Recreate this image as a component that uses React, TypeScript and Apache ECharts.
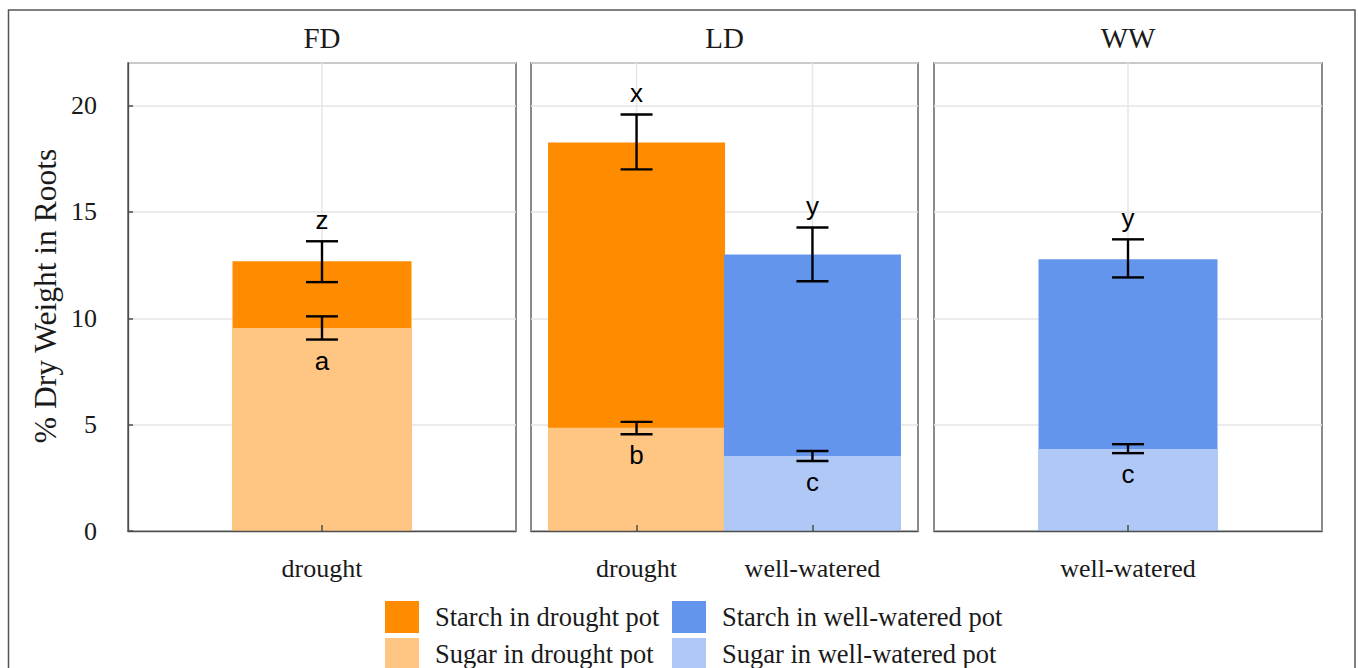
import React, { useEffect, useRef } from 'react';
import * as echarts from 'echarts';

// ---------- data ----------
const panelNames = ['FD', 'LD', 'WW'];
const panelCategories = [['drought'], ['drought', 'well-watered'], ['well-watered']];
const barPanel = [0, 1, 1, 2];
const barTreatment = ['drought', 'drought', 'well-watered', 'well-watered'];
const sugarValues = [9.54, 4.85, 3.52, 3.85];
const starchValues = [3.14, 13.41, 9.48, 8.92];
const sugarErrLow = [9.0, 4.55, 3.29, 3.66];
const sugarErrHigh = [10.09, 5.13, 3.76, 4.08];
const totalErrLow = [11.7, 17.0, 11.74, 11.92];
const totalErrHigh = [13.62, 19.58, 14.27, 13.71];
const starchLetters = ['z', 'x', 'y', 'y'];
const sugarLetters = ['a', 'b', 'c', 'c'];
const yMin = 0;
const yMax = 22;
const yInterval = 5;
const yAxisTitle = '% Dry Weight in Roots';
const legendStarchDrought = 'Starch in drought pot';
const legendSugarDrought = 'Sugar in drought pot';
const legendStarchWW = 'Starch in well-watered pot';
const legendSugarWW = 'Sugar in well-watered pot';

// ---------- style ----------
const SERIF = '"Liberation Serif", "Times New Roman", serif';
const SANS = '"Liberation Sans", Arial, sans-serif';
const colStarchD = '#FF8C00';
const colSugarD = '#FEC583';
const colStarchW = '#6495ED';
const colSugarW = '#B0C8F5';
const frameColor = '#4d4d4d';
const gridColor = '#e6e6e6';
const panelLeft = [128, 531, 934];
const panelWidth = [388, 387, 388];
const panelTop = 63;
const panelHeight = 468;
const barWidths = [179, 177, 179];

function buildOption() {
  const grids: any[] = [];
  const xAxes: any[] = [];
  const yAxes: any[] = [];
  const series: any[] = [];
  const graphics: any[] = [];

  panelNames.forEach((name, p) => {
    const cats = panelCategories[p];
    const customVals = cats.map((_, k) => k + 1);
    grids.push({
      left: panelLeft[p], top: panelTop, width: panelWidth[p], height: panelHeight,
      show: true, borderColor: frameColor, borderWidth: 1.3, backgroundColor: 'transparent',
    });
    xAxes.push({
      type: 'value', gridIndex: p, min: 0.4, max: cats.length + 0.6, z: 5,
      axisLine: { show: true, lineStyle: { color: frameColor, width: 1.3 } },
      axisTick: { show: true, inside: true, length: 6, customValues: customVals, lineStyle: { color: frameColor, width: 1.5 } },
      axisLabel: {
        show: true, customValues: customVals, margin: 24,
        formatter: (v: number) => cats[Math.round(v) - 1] ?? '',
        fontSize: 26, fontFamily: SERIF, color: '#1a1a1a',
      },
      splitLine: { show: false },
    });
    yAxes.push({
      type: 'value', gridIndex: p, min: yMin, max: yMax, interval: yInterval,
      axisLine: { show: p === 0, lineStyle: { color: frameColor, width: 1.3 } },
      axisTick: { show: p === 0, inside: true, length: 5, lineStyle: { color: frameColor, width: 1.5 } },
      axisLabel: { show: p === 0, showMaxLabel: false, margin: 31, fontSize: 26, fontFamily: SERIF, color: '#1a1a1a' },
      splitLine: { show: true, lineStyle: { color: gridColor, width: 1.5 } },
    });
    // vertical grid lines at category centres
    series.push({
      type: 'custom', xAxisIndex: p, yAxisIndex: p, z: 1, silent: true,
      data: customVals.map((v) => [v, 0]),
      renderItem: (params: any, api: any) => {
        const x = api.coord([api.value(0), 0])[0];
        const cs = params.coordSys;
        return {
          type: 'line',
          shape: { x1: x, y1: cs.y, x2: x, y2: cs.y + cs.height },
          style: { stroke: gridColor, lineWidth: 1.5 },
        };
      },
    });
    graphics.push({
      type: 'text', x: panelLeft[p] + panelWidth[p] / 2, y: 38,
      style: {
        text: name, font: `29px ${SERIF}`, fill: '#1a1a1a',
        textAlign: 'center', textVerticalAlign: 'middle', align: 'center', verticalAlign: 'middle',
      },
    });
  });

  sugarValues.forEach((sv, i) => {
    const p = barPanel[i];
    const x = panelCategories[p].indexOf(barTreatment[i]) + 1;
    const isD = barTreatment[i] === 'drought';
    // starch sits on top of sugar: drawn from 0 to sugar + starch, sugar drawn over it
    series.push({
      type: 'bar', name: isD ? legendStarchDrought : legendStarchWW,
      xAxisIndex: p, yAxisIndex: p, barWidth: barWidths[p], barGap: '-100%',
      itemStyle: { color: isD ? colStarchD : colStarchW },
      data: [[x, sv + starchValues[i]]],
    });
    series.push({
      type: 'bar', name: isD ? legendSugarDrought : legendSugarWW,
      xAxisIndex: p, yAxisIndex: p, barWidth: barWidths[p], barGap: '-100%',
      itemStyle: { color: isD ? colSugarD : colSugarW },
      data: [[x, sv]],
    });
    // error bars + letters
    series.push({
      type: 'custom', xAxisIndex: p, yAxisIndex: p, z: 10, silent: true,
      encode: { x: 0, y: [1, 2] },
      data: [
        [x, sugarErrLow[i], sugarErrHigh[i], 0],
        [x, totalErrLow[i], totalErrHigh[i], 1],
      ],
      renderItem: (params: any, api: any) => {
        const xv = api.value(0);
        const lo = api.coord([xv, api.value(1)]);
        const hi = api.coord([xv, api.value(2)]);
        const kind = api.value(3);
        const cx = lo[0];
        const half = 16;
        const st = { stroke: '#000', lineWidth: 2.4 };
        const letter = kind === 1 ? starchLetters[i] : sugarLetters[i];
        const ty = kind === 1 ? hi[1] - 21 : lo[1] + 21;
        return {
          type: 'group',
          children: [
            { type: 'line', shape: { x1: cx, y1: lo[1], x2: cx, y2: hi[1] }, style: st },
            { type: 'line', shape: { x1: cx - half, y1: lo[1], x2: cx + half, y2: lo[1] }, style: st },
            { type: 'line', shape: { x1: cx - half, y1: hi[1], x2: cx + half, y2: hi[1] }, style: st },
            {
              type: 'text', x: cx, y: ty,
              style: {
                text: letter, font: `26px ${SANS}`, fill: '#000',
                textAlign: 'center', textVerticalAlign: 'middle', align: 'center', verticalAlign: 'middle',
              },
            },
          ],
        };
      },
    });
  });

  graphics.push({
    type: 'rect', shape: { x: 8.5, y: 10, width: 1346.5, height: 700 },
    style: { fill: 'none', stroke: '#555', lineWidth: 1.5 }, z: -1,
  });
  graphics.push({
    type: 'text', x: 45, y: 296, rotation: Math.PI / 2,
    style: {
      text: yAxisTitle, font: `31.5px ${SERIF}`, fill: '#1a1a1a',
      textAlign: 'center', textVerticalAlign: 'middle', align: 'center', verticalAlign: 'middle',
    },
  });

  const legendCommon = {
    orient: 'horizontal', itemWidth: 34, itemHeight: 32, icon: 'rect', padding: 0,
    selectedMode: false,
    textStyle: { fontSize: 26.5, fontFamily: SERIF, color: '#1a1a1a', padding: [0, 0, 0, 11] },
  };

  return {
    animation: false,
    backgroundColor: '#fff',
    grid: grids,
    xAxis: xAxes,
    yAxis: yAxes,
    legend: [
      { ...legendCommon, left: 385, top: 601, data: [legendStarchDrought] },
      { ...legendCommon, left: 385, top: 638, data: [legendSugarDrought] },
      { ...legendCommon, left: 672, top: 601, data: [legendStarchWW] },
      { ...legendCommon, left: 672, top: 638, data: [legendSugarWW] },
    ],
    graphic: graphics,
    series,
  };
}

export default function App() {
  const ref = useRef<HTMLDivElement>(null);
  useEffect(() => {
    if (!ref.current) return;
    const chart = echarts.init(ref.current, null, { renderer: 'svg' });
    chart.setOption(buildOption() as any);
    return () => chart.dispose();
  }, []);
  return (
    <div
      ref={ref}
      style={{ position: 'fixed', left: 0, top: 0, width: '1358px', height: '668px', background: '#fff' }}
    />
  );
}
